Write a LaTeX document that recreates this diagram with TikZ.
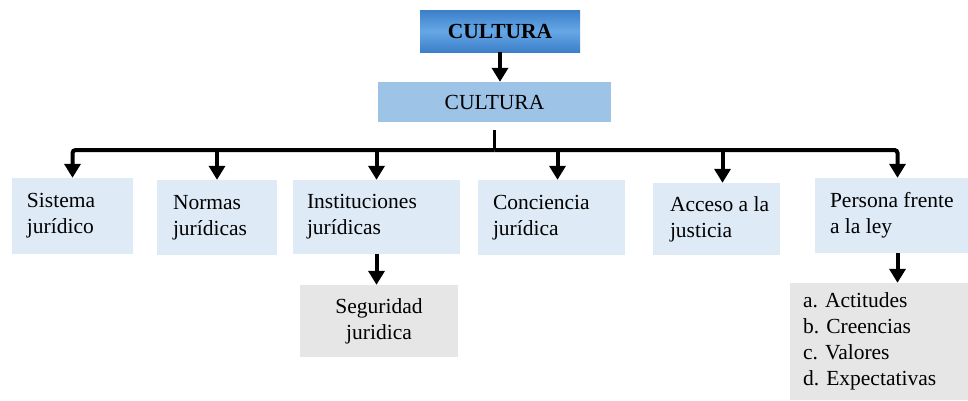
\documentclass[tikz,border=0pt]{standalone}
\usepackage{fontspec}
\setmainfont{Liberation Serif}
\newfontfamily\tnr{Liberation Serif}
\usetikzlibrary{arrows.meta}
\definecolor{topedge}{HTML}{3C7FC9}
\definecolor{topmid}{HTML}{66A7E6}
\definecolor{midblue}{HTML}{9DC3E6}
\definecolor{lblue}{HTML}{DEEAF6}
\definecolor{lgray}{HTML}{E6E6E6}
\begin{document}
\begin{tikzpicture}[x=1pt,y=-1pt,
  font=\tnr\fontsize{21.5}{26}\selectfont,
  box/.style={rectangle, draw=none, inner sep=0pt, anchor=center},
  lvl/.style={box, fill=lblue},
  grey/.style={box, fill=lgray},
  txt/.style={anchor=west, align=left, inner sep=0pt},
  arr/.style={line width=4pt, -{Triangle[width=16pt,length=14pt]}},
]
\fill[white] (0,0) rectangle (968,400);
\useasboundingbox (0,0) rectangle (968,400);

% top boxes
\node[box, minimum width=160pt, minimum height=42pt,
      top color=topedge, bottom color=topedge, middle color=topmid,
      font=\tnr\fontsize{21.5}{26}\selectfont\bfseries] (top) at (500,31) {CULTURA};
\node[box, fill=midblue, minimum width=233pt, minimum height=40pt] (cult2) at (494.5,102) {CULTURA};

% level boxes
\node[lvl, minimum width=121pt, minimum height=76pt] (sis) at (72.5,216) {};
\node[lvl, minimum width=120pt, minimum height=75pt] (nor) at (217,217.5) {};
\node[lvl, minimum width=167pt, minimum height=74pt] (ins) at (376.5,217) {};
\node[lvl, minimum width=147pt, minimum height=75pt] (con) at (551.5,217.5) {};
\node[lvl, minimum width=127pt, minimum height=72pt] (acc) at (716.5,219) {};
\node[lvl, minimum width=153pt, minimum height=75pt] (per) at (891.5,215.5) {};

\node[txt] (sist) at ([xshift=15pt]sis.west) {Sistema\\jurídico};
\node[txt] (nort) at ([xshift=16pt]nor.west) {Normas\\jurídicas};
\node[txt] (inst) at ([xshift=14pt]ins.west) {Instituciones\\jurídicas};
\node[txt] (cont) at ([xshift=15pt]con.west) {Conciencia\\jurídica};
\node[txt] (acct) at ([xshift=17pt]acc.west) {Acceso a la\\justicia};
\node[txt] (pert) at ([xshift=15pt]per.west) {Persona frente\\a la ley};

% lower boxes
\node[grey, minimum width=158pt, minimum height=72pt, align=center] (seg) at (379,321) {Seguridad\\juridica};
\node[grey, minimum width=178pt, minimum height=117pt] (lst) at (879,341.5) {};
\node[txt] (lstt) at ([xshift=13pt]lst.west) {a. Actitudes\\b. Creencias\\c. Valores\\d. Expectativas};

% connectors
\coordinate (bar) at (0,150);
\coordinate (ca) at ([xshift=6pt]con.north);
\coordinate (aa) at ([xshift=6pt]acc.north);
\coordinate (pa) at ([xshift=6pt]per.north);
\coordinate (pb) at ([xshift=6pt]per.south);

\draw[arr] (top.south) -- (top.south |- cult2.north);
\draw[line width=3pt] ([yshift=-8pt]cult2.south) -- (cult2.south |- bar);
\draw[arr, rounded corners=3pt] (cult2.south |- bar) -| (sis.north);
\draw[arr, rounded corners=3pt] (cult2.south |- bar) -| (pa);
\draw[arr] (nor.north |- bar) -- (nor.north);
\draw[arr] (ins.north |- bar) -- (ins.north);
\draw[arr] (ca |- bar) -- (ca);
\draw[arr] (aa |- bar) -- (aa);
\draw[arr] (ins.south) -- (ins.south |- seg.north);
\draw[arr] (pb) -- (pb |- lst.north);
\end{tikzpicture}
\end{document}
